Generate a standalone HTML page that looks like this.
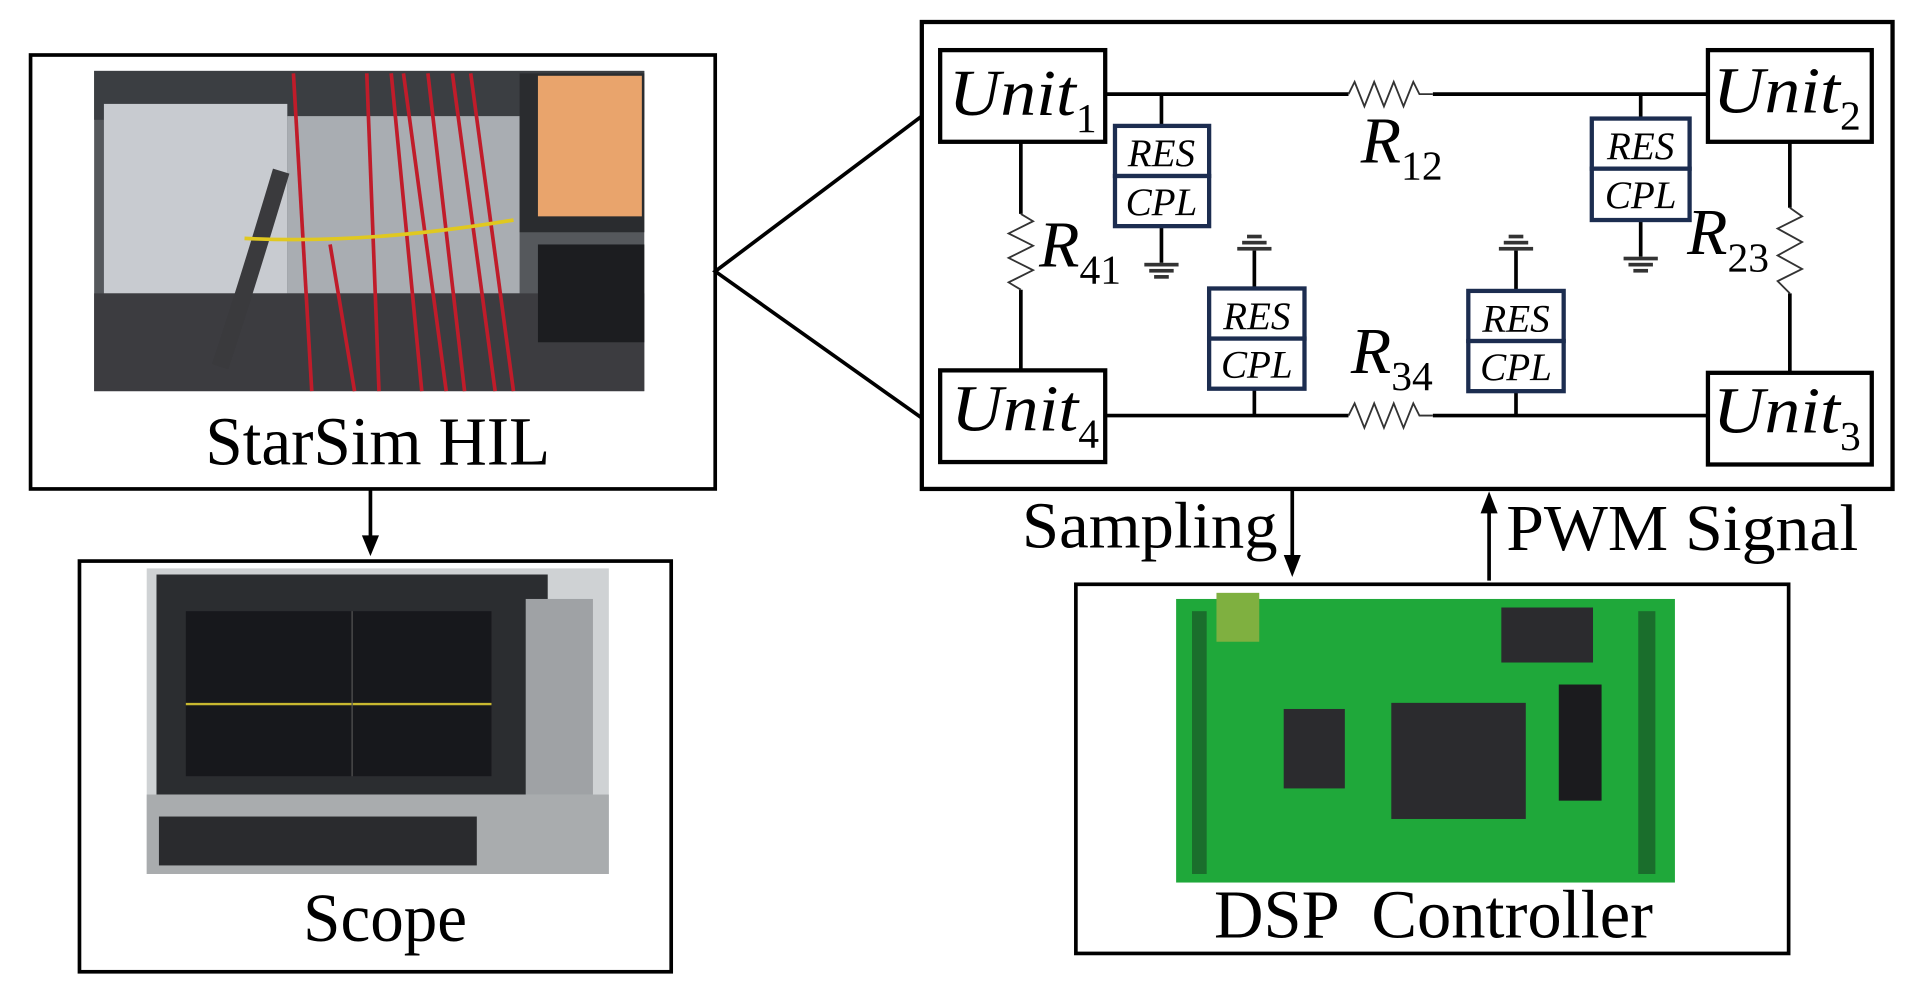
<!DOCTYPE html>
<html><head><style>html,body{margin:0;padding:0;background:#fff;overflow:hidden}svg{display:block}</style></head><body>
<svg width="1917" height="1006" viewBox="0 0 1568 823" preserveAspectRatio="none" xmlns="http://www.w3.org/2000/svg" style="font-family:'Liberation Serif',serif">
<rect width="1568" height="823" fill="#fff"/>
<!-- StarSim box -->
<rect x="25" y="45" width="560" height="355" fill="none" stroke="#000" stroke-width="3"/>
<rect x="77" y="58" width="450" height="262" fill="#55585c"/>
<rect x="77" y="58" width="450" height="40" fill="#3b3e42"/>
<rect x="85" y="85" width="150" height="155" fill="#c8cbd0"/>
<rect x="235" y="95" width="190" height="145" fill="#a9adb2"/>
<rect x="425" y="60" width="102" height="130" fill="#2a2c2f"/>
<rect x="440" y="62" width="85" height="115" fill="#e9a46c"/>
<rect x="77" y="240" width="450" height="80" fill="#3c3c40"/>
<rect x="440" y="200" width="87" height="80" fill="#1c1d20"/>
<g stroke="#c01c2a" stroke-width="3" fill="none">
<path d="M240 60 L255 320"/><path d="M300 60 L310 320"/><path d="M320 60 L345 320"/><path d="M330 60 L365 320"/><path d="M350 60 L380 320"/><path d="M370 60 L405 320"/><path d="M385 60 L420 320"/><path d="M270 200 L290 320"/>
</g>
<path d="M180 300 Q200 240 230 140" stroke="#3a3a3d" stroke-width="14" fill="none"/>
<path d="M200 195 Q300 200 420 180" stroke="#e0c820" stroke-width="3" fill="none"/>
<text x="168" y="380" font-size="56" textLength="282" lengthAdjust="spacingAndGlyphs">StarSim HIL</text>
<!-- arrow -->
<line x1="303" y1="400" x2="303" y2="440" stroke="#000" stroke-width="3"/>
<path d="M296 438 L310 438 L303 455 Z"/>
<!-- Scope box -->
<rect x="65" y="459" width="484" height="336" fill="none" stroke="#000" stroke-width="3"/>
<rect x="120" y="465" width="378" height="250" fill="#cfd2d4"/>
<rect x="128" y="470" width="320" height="180" fill="#2b2d30"/>
<rect x="152" y="500" width="250" height="135" fill="#17181c"/>
<line x1="152" y1="576" x2="402" y2="576" stroke="#c8b830" stroke-width="2"/>
<line x1="288" y1="500" x2="288" y2="635" stroke="#555" stroke-width="1"/>
<rect x="120" y="650" width="378" height="65" fill="#a9acae"/>
<rect x="130" y="668" width="260" height="40" fill="#2a2b2e"/>
<rect x="430" y="490" width="55" height="160" fill="#9fa2a5"/>
<text x="248" y="770" font-size="56" textLength="134" lengthAdjust="spacingAndGlyphs">Scope</text>
<!-- circuit box -->
<rect x="754" y="18" width="794" height="382" fill="none" stroke="#000" stroke-width="3.5"/>
<path d="M754 95 L585 222 L754 342" fill="none" stroke="#000" stroke-width="3"/>
<g stroke="#000" stroke-width="3" fill="none">
<path d="M904 77 H1103"/><path d="M1172 77 H1397"/>
<path d="M904 340 H1103"/><path d="M1172 340 H1397"/>
<path d="M835 116 V175"/><path d="M835 237 V303"/>
<path d="M1464 116 V170"/><path d="M1464 240 V305"/>
<path d="M950 77 V103"/><path d="M950 185 V215"/>
<path d="M1342 77 V97"/><path d="M1342 180 V210"/>
<path d="M1026 318 V340"/><path d="M1026 205 V236"/>
<path d="M1240 320 V340"/><path d="M1240 205 V238"/>
</g>
<g stroke="#333" stroke-width="1.5" fill="none">
<path d="M1103 77 l5 -10 l8 20 l8 -20 l8 20 l8 -20 l8 20 l8 -20 l5 10 H1172"/>
<path d="M1103 340 l5 -10 l8 20 l8 -20 l8 20 l8 -20 l8 20 l8 -20 l5 10 H1172"/>
<path d="M835 175 l10 6 l-20 10 l20 10 l-20 10 l20 10 l-20 10 l10 6"/>
<path d="M1464 170 l10 7 l-20 10 l20 11 l-20 11 l20 11 l-20 10 l10 10"/>
</g>
<g fill="#333">
<rect x="936" y="215" width="28" height="3"/><rect x="940" y="220" width="20" height="3"/><rect x="944" y="225" width="12" height="3"/>
<rect x="1328" y="210" width="28" height="3"/><rect x="1332" y="215" width="20" height="3"/><rect x="1336" y="220" width="12" height="3"/>
<rect x="1012" y="202" width="28" height="3"/><rect x="1016" y="197" width="20" height="3"/><rect x="1020" y="192" width="12" height="3"/>
<rect x="1226" y="202" width="28" height="3"/><rect x="1230" y="197" width="20" height="3"/><rect x="1234" y="192" width="12" height="3"/>
</g>
<g fill="#fff" stroke="#000" stroke-width="3.5">
<rect x="769" y="41" width="135" height="75"/><rect x="1397" y="41" width="134" height="75"/>
<rect x="769" y="303" width="135" height="75"/><rect x="1397" y="305" width="134" height="75"/>
</g>
<g font-size="54" font-style="italic">
<text x="776" y="94"><tspan textLength="104" lengthAdjust="spacingAndGlyphs">Unit</tspan><tspan font-size="34" font-style="normal" dy="14">1</tspan></text>
<text x="1401" y="92"><tspan textLength="104" lengthAdjust="spacingAndGlyphs">Unit</tspan><tspan font-size="34" font-style="normal" dy="14">2</tspan></text>
<text x="778" y="352"><tspan textLength="104" lengthAdjust="spacingAndGlyphs">Unit</tspan><tspan font-size="34" font-style="normal" dy="14">4</tspan></text>
<text x="1401" y="354"><tspan textLength="104" lengthAdjust="spacingAndGlyphs">Unit</tspan><tspan font-size="34" font-style="normal" dy="14">3</tspan></text>
<text x="1113" y="133">R<tspan font-size="34" font-style="normal" dy="14">12</tspan></text>
<text x="850" y="218">R<tspan font-size="34" font-style="normal" dy="14">41</tspan></text>
<text x="1380" y="208">R<tspan font-size="34" font-style="normal" dy="14">23</tspan></text>
<text x="1105" y="305">R<tspan font-size="34" font-style="normal" dy="14">34</tspan></text>
</g>
<g fill="#fff" stroke="#1c2d50" stroke-width="3.5">
<rect x="912" y="103" width="77" height="41"/><rect x="912" y="144" width="77" height="41"/>
<rect x="1302" y="97" width="80" height="41"/><rect x="1302" y="138" width="80" height="42"/>
<rect x="989" y="236" width="78" height="41"/><rect x="989" y="277" width="78" height="41"/>
<rect x="1201" y="238" width="78" height="41"/><rect x="1201" y="279" width="78" height="41"/>
</g>
<g font-size="32" font-style="italic" text-anchor="middle">
<text x="950" y="136">RES</text><text x="950" y="176">CPL</text>
<text x="1342" y="130">RES</text><text x="1342" y="170">CPL</text>
<text x="1028" y="269">RES</text><text x="1028" y="309">CPL</text>
<text x="1240" y="271">RES</text><text x="1240" y="311">CPL</text>
</g>
<!-- sampling / pwm -->
<line x1="1057" y1="400" x2="1057" y2="455" stroke="#000" stroke-width="3"/>
<path d="M1050 454 L1064 454 L1057 472 Z"/>
<line x1="1218" y1="475" x2="1218" y2="418" stroke="#000" stroke-width="3"/>
<path d="M1211 420 L1225 420 L1218 402 Z"/>
<text x="836" y="448" font-size="54" textLength="209" lengthAdjust="spacingAndGlyphs">Sampling</text>
<text x="1232" y="450" font-size="54" textLength="288" lengthAdjust="spacingAndGlyphs">PWM Signal</text>
<!-- DSP box -->
<rect x="880" y="478" width="583" height="302" fill="none" stroke="#000" stroke-width="3"/>
<rect x="962" y="490" width="408" height="232" fill="#1fa83a"/>
<rect x="975" y="500" width="12" height="215" fill="#1a6e2c"/>
<rect x="1340" y="500" width="14" height="215" fill="#1a6e2c"/>
<rect x="995" y="485" width="35" height="40" fill="#7fb040"/>
<rect x="1138" y="575" width="110" height="95" fill="#2b2b2e"/>
<rect x="1050" y="580" width="50" height="65" fill="#2b2b2e"/>
<rect x="1228" y="497" width="75" height="45" fill="#2b2b2e"/>
<rect x="1275" y="560" width="35" height="95" fill="#1b1b1e"/>
<text x="993" y="767" font-size="56" textLength="359" lengthAdjust="spacingAndGlyphs" xml:space="preserve">DSP  Controller</text>
</svg>
</body></html>
